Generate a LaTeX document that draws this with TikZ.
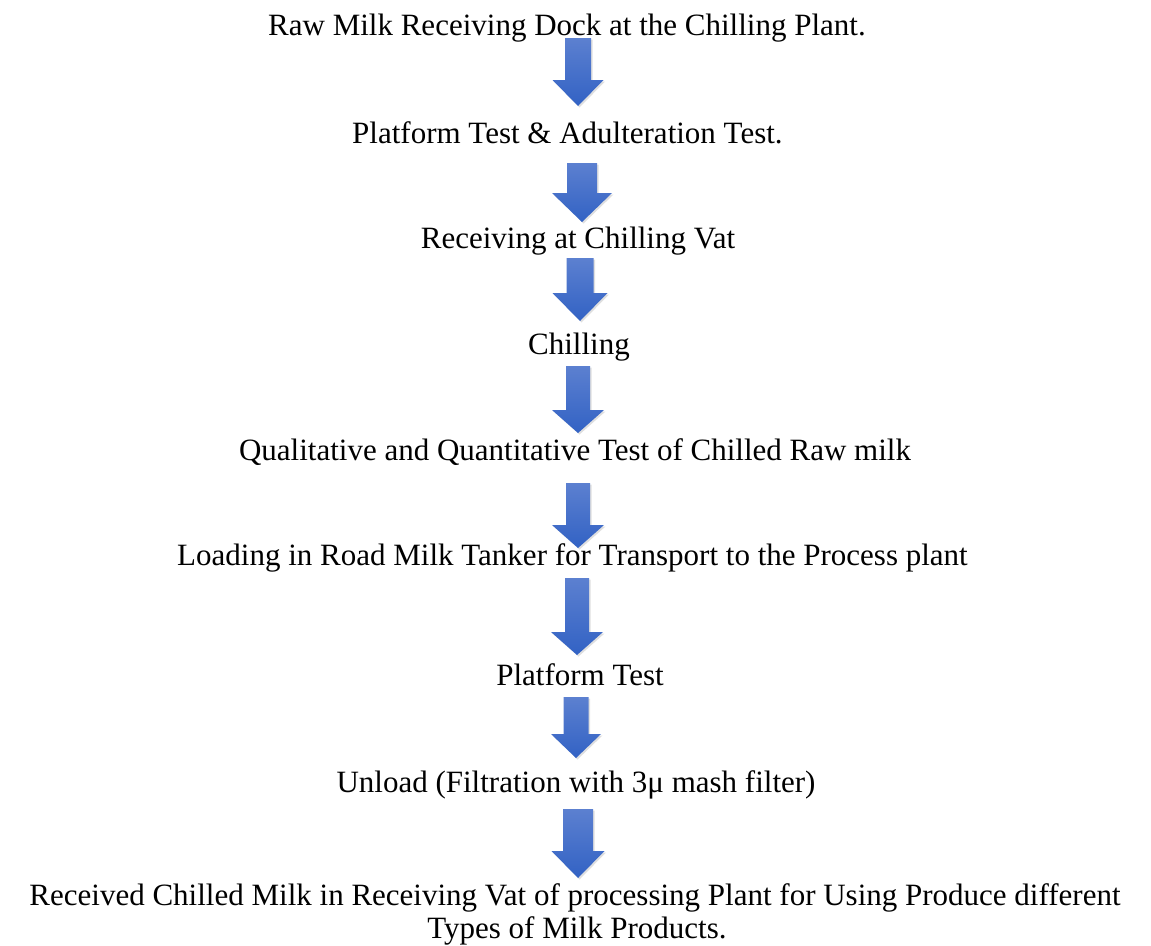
\documentclass[tikz,border=0pt]{standalone}
\usepackage{fontspec}
\setmainfont{Liberation Serif}
\usetikzlibrary{shadows,shadings}
\definecolor{arrtop}{RGB}{92,128,208}
\definecolor{arrbot}{RGB}{50,98,196}
\tikzset{
  steptext/.style={anchor=base, inner sep=0pt, font=\fontsize{31}{34}\selectfont},
  blockarrow/.style={top color=arrtop, bottom color=arrbot, draw=none,
    drop shadow={opacity=0.25, shadow xshift=1.5pt, shadow yshift=-1.5pt}}
}
% block arrow: centre x, shaft top, head base, tip, shaft half width, head half width
\newcommand{\downblock}[6]{%
  \path[blockarrow] (#1-#5,#2) -- (#1+#5,#2) -- (#1+#5,#3) -- (#1+#6,#3)
    -- (#1,#4) -- (#1-#6,#3) -- (#1-#5,#3) -- cycle;}
\begin{document}
\begin{tikzpicture}[x=1pt,y=-1pt]
\useasboundingbox (0,0) rectangle (1151,945);
\node[steptext, anchor=base west] (s1) at (268,35) {Raw Milk Receiving Dock at the Chilling Plant.};
\node[steptext, anchor=base west] (s2) at (352,143) {Platform Test \& Adulteration Test.};
\node[steptext] (s3) at (578,248) {Receiving at Chilling Vat};
\node[steptext] (s4) at (579,354) {Chilling};
\node[steptext] (s5) at (575,460) {Qualitative and Quantitative Test of Chilled Raw milk};
\node[steptext] (s6) at (572.5,565) {Loading in Road Milk Tanker for Transport to the Process plant};
\node[steptext] (s7) at (580,685) {Platform Test};
\node[steptext] (s8) at (576,792) {Unload (Filtration with 3μ mash filter)};
\node[steptext] (s9) at (575,905) {Received Chilled Milk in Receiving Vat of processing Plant for Using Produce different};
\node[steptext] (s10) at (577,938) {Types of Milk Products.};

\downblock{578}{38}{80}{106}{13}{25.5}
\downblock{582}{163}{193}{222}{15}{30}
\downblock{580}{258}{293}{321}{13.5}{27.5}
\downblock{578}{366}{410}{433}{12}{26}
\downblock{578}{483}{525}{548}{12}{26}
\downblock{577}{578}{632}{655}{12}{26}
\downblock{576}{697}{734}{758}{12.5}{25}
\downblock{578}{809}{851}{878}{15}{26.5}
\end{tikzpicture}
\end{document}
